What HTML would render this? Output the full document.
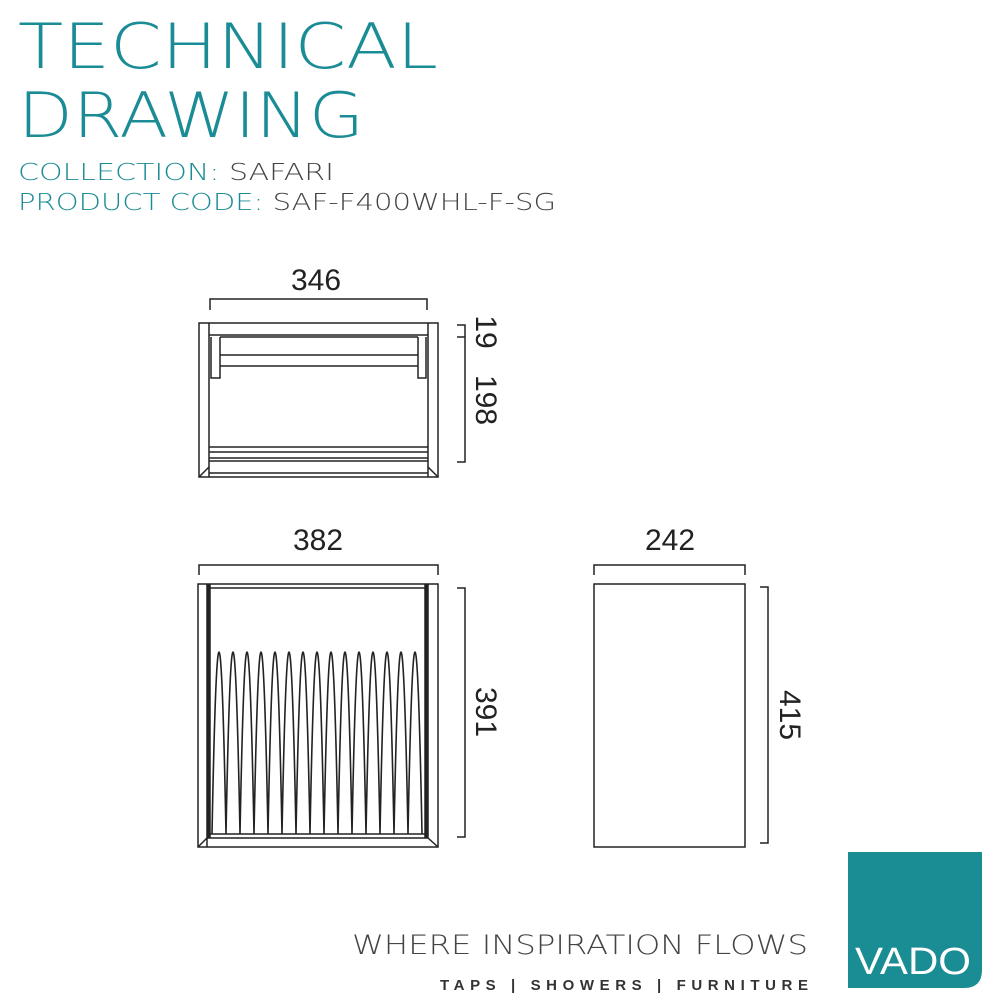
<!DOCTYPE html>
<html><head><meta charset="utf-8"><style>
html,body{margin:0;padding:0;background:#fff}
svg{display:block}
text{font-family:"Liberation Sans",sans-serif}
.thin{font-family:"DejaVu Sans","Liberation Sans",sans-serif;font-weight:200}
</style></head><body>
<svg width="1000" height="1000" viewBox="0 0 1000 1000" xmlns="http://www.w3.org/2000/svg">
<g fill="#1b8c95" class="thin">
<text class="thin" x="18" y="68" font-size="62" textLength="420" lengthAdjust="spacingAndGlyphs">TECHNICAL</text>
<text class="thin" x="18" y="137" font-size="62" textLength="346" lengthAdjust="spacingAndGlyphs">DRAWING</text>
<text class="thin" x="18" y="180" font-size="23" textLength="316" lengthAdjust="spacingAndGlyphs">COLLECTION: <tspan fill="#444">SAFARI</tspan></text>
<text class="thin" x="18" y="210" font-size="23" textLength="538" lengthAdjust="spacingAndGlyphs">PRODUCT CODE: <tspan fill="#444">SAF-F400WHL-F-SG</tspan></text>
</g>
<g fill="none" stroke="#222" stroke-width="1.5">
<path d="M210 310V299H427V310"/>
<rect x="199" y="323" width="239" height="154"/>
<path d="M209 323V477M428 323V477M209 335H428M220 337H418M220 355H418M220 366H418M211 337V378H220V337M426 337V378H418V337"/>
<path d="M209 447H428M209 452H428M209 458H428M209 461H428M209 473H428M199 477L209 467M438 477L428 467"/>
<path d="M457 325H465V462H457M457 337H465"/>
<path d="M199 575V565H438V575"/>
<rect x="198" y="584" width="240" height="263"/>
<path d="M207 584V847M210 584V838M428 584V838M425 584V838M207 588H428M207 834H428M207 838H428M198 847L207 838M438 847L428 838"/>
<path d="M208.5 584V838M426.5 584V838" stroke-width="3"/>
<path d="M457 588H465V837H457"/>
<path d="M212 834 Q219 470 226 834 Q233 470 240 834 Q247 470 254 834 Q261 470 268 834 Q275 470 282 834 Q289 470 296 834 Q303 470 310 834 Q317 470 324 834 Q331 470 338 834 Q345 470 352 834 Q359 470 366 834 Q373 470 380 834 Q387 470 394 834 Q401 470 408 834 Q415 470 422 834" stroke-width="1.6"/>
<path d="M594 575V565H745V575"/>
<rect x="594" y="584" width="151" height="263"/>
<path d="M760 587H768V843H760"/>
</g>
<g fill="#222" font-size="30">
<text x="316" y="290" text-anchor="middle">346</text>
<text x="318" y="550" text-anchor="middle">382</text>
<text x="670" y="550" text-anchor="middle">242</text>
<text transform="translate(476 332) rotate(90)" text-anchor="middle">19</text>
<text transform="translate(476 400) rotate(90)" text-anchor="middle">198</text>
<text transform="translate(476 712) rotate(90)" text-anchor="middle">391</text>
<text transform="translate(780 715) rotate(90)" text-anchor="middle">415</text>
</g>
<text class="thin" x="352" y="954" font-size="27" fill="#444" textLength="456" lengthAdjust="spacingAndGlyphs">WHERE INSPIRATION FLOWS</text>
<text x="440" y="990" font-size="15" font-weight="bold" fill="#333" textLength="368" lengthAdjust="spacing">TAPS | SHOWERS | FURNITURE</text>
<path d="M848 852H982V970Q982 988 964 988H848Z" fill="#1a8c93"/>
<text x="913" y="974" font-size="38" fill="#fff" text-anchor="middle" textLength="116" lengthAdjust="spacingAndGlyphs">VADO</text>
</svg>
</body></html>
